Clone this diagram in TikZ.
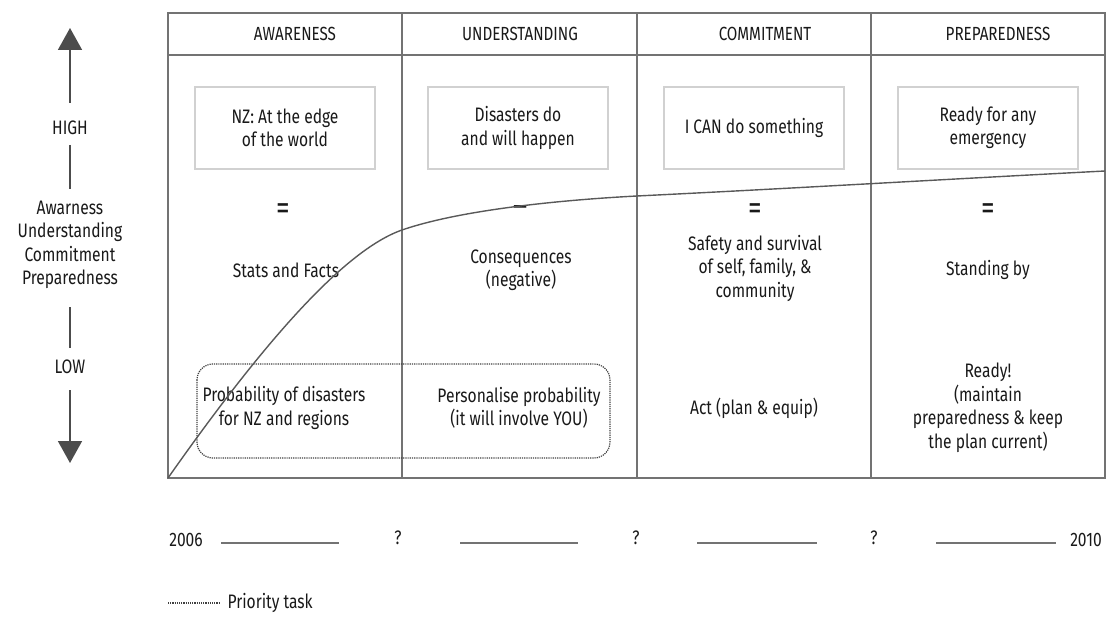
\documentclass[tikz,border=0pt]{standalone}
\usepackage{fontspec}
\setmainfont{Fira Sans}[FakeStretch=0.8]
\usepackage{tikz}
\usetikzlibrary{arrows.meta, positioning}

\begin{document}
\begin{tikzpicture}[x=1pt, y=-1pt,
      grid/.style={draw=black!55, line width=1.2pt},
      headtxt/.style={font=\fontsize{19}{22}\selectfont, text=black!90},
      keybox/.style={draw=black!18, line width=1.3pt, align=center, minimum width=180pt, minimum height=82pt, font=\fontsize{19.5}{23.5}\selectfont, text=black!90},
      celltxt/.style={align=center, font=\fontsize{19.5}{23.5}\selectfont, text=black!90},
      eqsign/.style={font=\fontsize{34}{34}\selectfont, text=black!90},
      axisline/.style={draw=black!70, line width=1.6pt},
      axishead/.style={axisline, -{Triangle[width=24pt,length=22pt]}},
      growth/.style={draw=black!65, line width=1.4pt},
      priority/.style={draw=black!75, densely dotted, line width=1.2pt, rounded corners=16pt},
      blank/.style={draw=black!55, line width=2pt}
    ]
    \useasboundingbox (0,0) rectangle (1109,623);

    % table frame
    \coordinate (tl) at (168,13);
    \coordinate (br) at (1105,478);
    \draw[grid] (tl) rectangle (br);
    \draw[grid] (168,55) -- (1105,55);
    \draw[grid] (402,13) -- (402,478);
    \draw[grid] (637,13) -- (637,478);
    \draw[grid] (871,13) -- (871,478);

    % column heads
    \node[headtxt] (awareHead) at (295,34) {AWARENESS};
    \node[headtxt] (underHead) at (520,34) {UNDERSTANDING};
    \node[headtxt] (commitHead) at (765,34) {COMMITMENT};
    \node[headtxt] (prepHead) at (998,34) {PREPAREDNESS};

    % key messages
    \node[keybox] (awareKey) at (285,128) {NZ: At the edge\\of the world};
    \node[keybox] (underKey) at (518,128) {Disasters do\\and will happen};
    \node[keybox] (commitKey) at (754,128) {I CAN do something};
    \node[keybox] (prepKey) at (988,128) {Ready for any\\emergency};

    \node[eqsign] (awareEq) at (283,212) {=};
    \node[eqsign] (underEq) at (521,212) {--};
    \node[eqsign] (commitEq) at (755,212) {=};
    \node[eqsign] (prepEq) at (988,212) {=};

    \node[celltxt] (awareMid) at (286,270) {Stats and Facts};
    \node[celltxt] (underMid) at (521,270) {Consequences\\(negative)};
    \node[celltxt] (commitMid) at (755,268) {Safety and survival\\of self, family, \&\\community};
    \node[celltxt] (prepMid) at (988,270) {Standing by};

    \node[celltxt] (awareLow) at (284,408) {Probability of disasters\\for NZ and regions};
    \node[celltxt] (underLow) at (519,408) {Personalise probability\\(it will involve YOU)};
    \node[celltxt] (commitLow) at (754,408) {Act (plan \& equip)};
    \node[celltxt] (prepLow) at (988,408) {Ready!\\(maintain\\preparedness \& keep\\the plan current)};

    % priority tasks
    \draw[priority] (197,364) rectangle (610,458);

    % growth curve
    \draw[growth] (br -| tl)
      .. controls (265,340) and (345,250) .. (402,230)
      .. controls (460,210) and (560,200) .. (637,196)
      .. controls (800,188) and (950,179) .. (1105,171);

    % left axis
    \node[celltxt] (high) at (70,128) {HIGH};
    \node[celltxt] (stages) at (70,245) {Awarness\\Understanding\\Commitment\\Preparedness};
    \node[celltxt] (low) at (70,367) {LOW};
    \coordinate (upTip) at (70,28);
    \coordinate (downTip) at (70,463);
    \draw[axishead] (70,103) -- (upTip);
    \draw[axisline] (70,145) -- (70,189);
    \draw[axisline] (70,307) -- (70,348);
    \draw[axishead] (70,390) -- (downTip);

    % time line
    \node[celltxt] (start) at (186,540) {2006};
    \node[celltxt] (q1) at (398,538) {?};
    \node[celltxt] (q2) at (636,538) {?};
    \node[celltxt] (q3) at (874,538) {?};
    \node[celltxt] (finish) at (1086,540) {2010};
    \draw[blank] (221,543) -- (339,543);
    \draw[blank] (460,543) -- (578,543);
    \draw[blank] (697,543) -- (817,543);
    \draw[blank] (936,543) -- (1056,543);

    % legend
    \coordinate (legA) at (168,603);
    \coordinate (legB) at (220,603);
    \draw[draw=black!75, densely dotted, line width=1.2pt] (legA) -- (legB);
    \node[celltxt, right=4pt of legB] (legTxt) {Priority task};
  \end{tikzpicture}
\end{document}
